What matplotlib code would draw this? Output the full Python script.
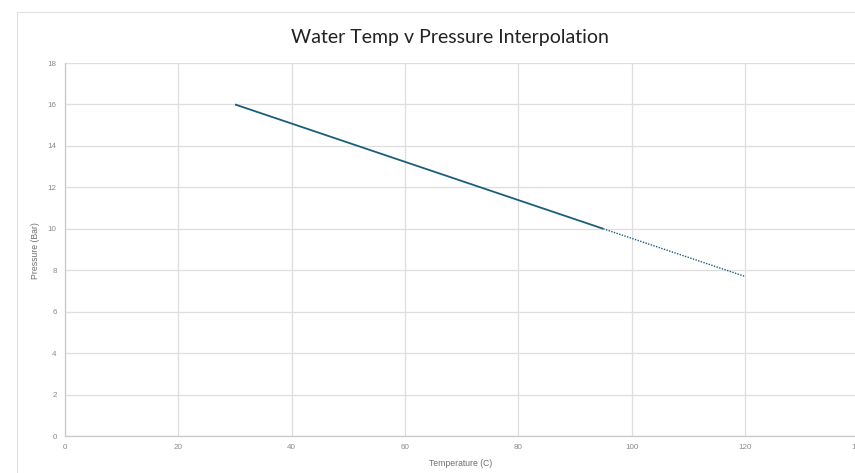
import matplotlib
matplotlib.use("Agg")
import matplotlib.pyplot as plt
from matplotlib.patches import Rectangle

# Data
temp_measured = [30, 95]
pressure_measured = [16, 10]
temp_interp = [95, 120]
pressure_interp = [10, 7.7]
x_ticks = [0, 20, 40, 60, 80, 100, 120, 140]
y_ticks = [0, 2, 4, 6, 8, 10, 12, 14, 16, 18]

W, H = 855, 473
fig = plt.figure(figsize=(W / 100, H / 100), dpi=100)
fig.patch.set_facecolor("white")

# outer chart border (cropped on right/bottom)
fig.patches.append(Rectangle((17 / W, -0.1), 1.2, 1 - 12 / H + 0.1,
                             transform=fig.transFigure, fill=False,
                             edgecolor="#e0e0e0", linewidth=0.8))

left, right = 65 / W, 858.3 / W
bottom, top = 1 - 436 / H, 1 - 63 / H
ax = fig.add_axes([left, bottom, right - left, top - bottom])

color = "#1a5e7c"
ax.plot(temp_measured, pressure_measured, color=color, linewidth=1.3,
        solid_capstyle="butt")
ax.plot(temp_interp, pressure_interp, color=color, linewidth=1.0,
        linestyle=(0, (1, 1)))

ax.set_xlim(0, 140)
ax.set_ylim(0, 18)
ax.set_xticks(x_ticks)
ax.set_yticks(y_ticks)
ax.grid(True, color="#dedede", linewidth=0.9)
ax.set_axisbelow(True)
for s in ["top", "right"]:
    ax.spines[s].set_visible(False)
for s in ["left", "bottom"]:
    ax.spines[s].set_color("#c8c8c8")
    ax.spines[s].set_linewidth(0.9)
ax.tick_params(length=0, labelsize=5.8, labelcolor="#8a8a8a", pad=6)
for lab in ax.get_xticklabels() + ax.get_yticklabels():
    lab.set_family("Liberation Sans")

fig.text(35 / W, 1 - 251 / H, "Pressure (Bar)", rotation=90, ha="center",
         va="center", fontsize=6.2, color="#6e6e6e", family="Liberation Sans")
fig.text(460.5 / W, 1 - 463 / H, "Temperature (C)", ha="center", va="center",
         fontsize=6.2, color="#6e6e6e", family="Liberation Sans")
fig.text(450 / W, 1 - 38 / H, "Water Temp v Pressure Interpolation",
         ha="center", va="center", fontsize=14, color="#222222", family="Lato")

fig.savefig("out.png", dpi=100)
